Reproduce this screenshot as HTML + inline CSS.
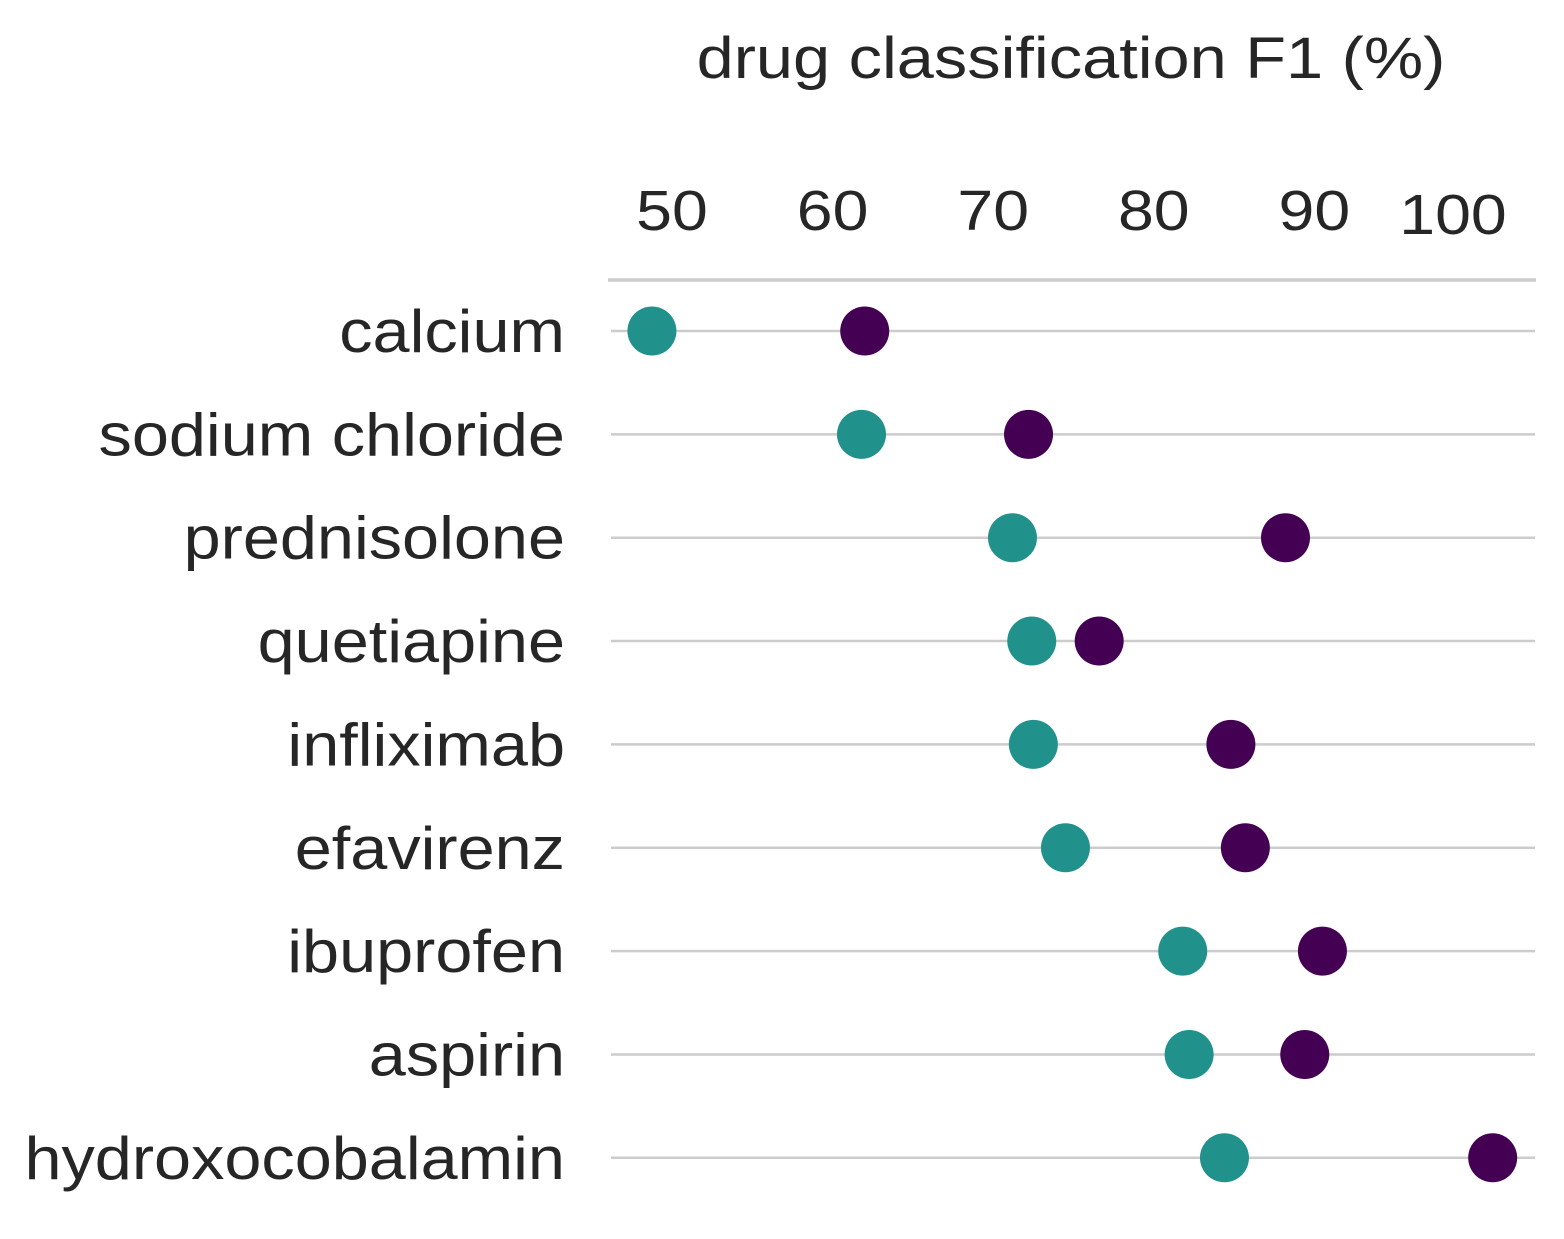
<!DOCTYPE html>
<html><head><meta charset="utf-8">
<style>
html,body{margin:0;padding:0;background:#fff;}
svg{display:block;font-family:"Liberation Sans",Arial,sans-serif;}
</style></head>
<body>
<svg id="chart" width="1564" height="1239" viewBox="0 0 1564 1239" xmlns="http://www.w3.org/2000/svg">
<text id="title" x="1071" y="78" text-anchor="middle" font-size="58" fill="#262626">drug classification F1 (%)</text>
<line x1="608" y1="280" x2="1536" y2="280" stroke="#cccccc" stroke-width="3.5"/>
<g id="ticks"></g>
<g id="grid"></g>
<g id="labels"></g>
<g id="dots"></g>
</svg>
<script>
const categories = ["calcium","sodium chloride","prednisolone","quetiapine","infliximab","efavirenz","ibuprofen","aspirin","hydroxocobalamin"];
const seriesTeal = [48.75,61.8,71.2,72.4,72.5,74.5,81.8,82.2,84.4];
const seriesPurple = [62.0,72.2,88.2,76.6,84.8,85.7,90.5,89.4,101.1];
const tickValues = [50,60,70,80,90,100];
const tickLabels = ["50","60","70","80","90","100"];

const NS="http://www.w3.org/2000/svg";
function xScale(v){return 672+(v-50)*16.06;}
function yScale(i){return 331+i*103.35;}
function mk(tag,attrs,parent){const e=document.createElementNS(NS,tag);for(const k in attrs)e.setAttribute(k,attrs[k]);parent.appendChild(e);return e;}
function widen(t,f){const w=t.getComputedTextLength();t.setAttribute('textLength',w*f);t.setAttribute('lengthAdjust','spacingAndGlyphs');}

widen(document.getElementById('title'),1.15);
const gT=document.getElementById('ticks');
tickValues.forEach((v,i)=>{
  let x=xScale(v), y=230;
  if(v===100){x=xScale(v)-22;y=234;}
  const t=mk('text',{x:x,y:y,'text-anchor':'middle','font-size':'57',fill:'#262626'},gT);
  
  
  t.textContent=tickLabels[i];
  widen(t,1.13);
});
const gG=document.getElementById('grid'),gL=document.getElementById('labels'),gD=document.getElementById('dots');
categories.forEach((c,i)=>{
  const y=yScale(i);
  const l=mk('line',{x1:611,y1:y,x2:1535,y2:y,stroke:'#cccccc','stroke-width':'2.5'},gG);
  
  
  const t=mk('text',{x:565,y:y+21,'text-anchor':'end','font-size':'60',fill:'#262626'},gL);
  
  
  t.textContent=c;
  widen(t,1.11);
  const a=mk('circle',{cx:xScale(seriesTeal[i]),cy:y,r:24.5,fill:'#21918c'},gD);
  
  
  const b=mk('circle',{cx:xScale(seriesPurple[i]),cy:y,r:24.5,fill:'#440154'},gD);
  
  
});
</script>
</body></html>
